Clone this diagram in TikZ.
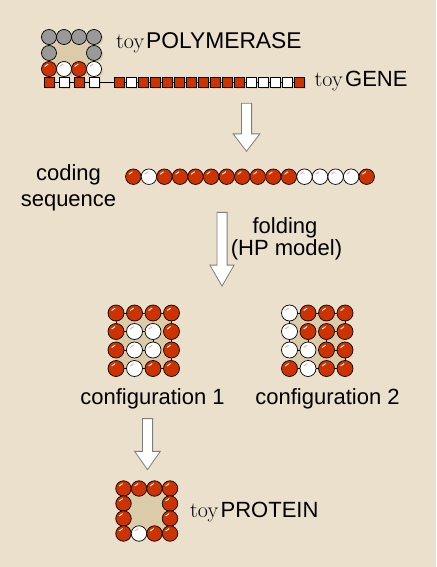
\documentclass[tikz,border=0pt]{standalone}
\usepackage{fontspec}
\setsansfont{Liberation Sans}
\usetikzlibrary{shapes.arrows,backgrounds,shadows}
\definecolor{paper}{RGB}{234,224,204}
\definecolor{core}{RGB}{220,203,168}
\definecolor{hbead}{RGB}{204,51,0}
\definecolor{gbead}{RGB}{153,153,153}
\definecolor{glow}{RGB}{222,206,172}
\definecolor{shine}{RGB}{232,170,170}
\definecolor{arrowline}{RGB}{125,125,125}
\newcommand{\toyword}{{\rmfamily\fontsize{22}{26}\selectfont toy}}

\begin{document}
\begin{tikzpicture}[x=1pt,y=-1pt]
    \tikzstyle{every node}+=[inner sep=0pt]
    \tikzstyle{bead}=[circle, draw=black, line width=0.7pt, minimum size=15.5pt]
    \tikzstyle{hp}=[bead, fill=hbead, path picture={\draw[white, line width=0.9pt] (path picture bounding box.center) ++(100:5pt) arc (100:150:5pt);}]
    \tikzstyle{pp}=[bead, fill=white, path picture={\draw[shine, line width=0.9pt] (path picture bounding box.center) ++(100:5pt) arc (100:150:5pt);}]
    \tikzstyle{gp}=[bead, fill=gbead]
    \tikzstyle{glowing}=[drop shadow={fill=glow, opacity=1, shadow xshift=1.8pt, shadow yshift=-1.8pt}]
    \tikzstyle{hsq}=[rectangle, draw=black, line width=0.6pt, fill=hbead, minimum size=10pt, glowing]
    \tikzstyle{psq}=[rectangle, draw=black, line width=0.6pt, fill=white, minimum size=10pt, glowing]
    \tikzstyle{chain}=[black, line width=0.9pt]
    \tikzstyle{lab}=[font=\sffamily\fontsize{22}{26}\selectfont]
    \tikzstyle{biglab}=[font=\sffamily\fontsize{22.8}{27}\selectfont]
    \tikzstyle{fold}=[single arrow, draw=arrowline, fill=white, line width=0.8pt, rotate=-90, inner ysep=4.7pt]
    \useasboundingbox (0,0) rectangle (436,567);

    % polymerase
    \node[gp, glowing, minimum size=15pt] (pg1) at (49,37) {};
    \node[gp, glowing, minimum size=15pt] (pg2) at (64,37) {};
    \node[gp, glowing, minimum size=15pt] (pg3) at (79,37) {};
    \node[gp, glowing, minimum size=15pt] (pg4) at (94,37) {};
    \node[gp, glowing, minimum size=15pt] (pg5) at (49,53) {};
    \node[gp, glowing, minimum size=15pt] (pg6) at (94,53) {};
    \node[hp, glowing, minimum size=15pt] (pc1) at (49,69) {};
    \node[pp, glowing, minimum size=15pt] (pc2) at (64,69) {};
    \node[hp, glowing, minimum size=15pt] (pc3) at (79,69) {};
    \node[pp, glowing, minimum size=15pt] (pc4) at (94,69) {};
    \node[hsq] (ps1) at (49,82.3) {};
    \node[psq] (ps2) at (64,82.3) {};
    \node[hsq] (ps3) at (79,82.3) {};
    \node[psq] (ps4) at (94,82.3) {};
    \node[biglab, anchor=base west] (polylabel) at (116,49) {\toyword\kern2pt POLYMERASE};

    % gene
    \node[hsq] (g1) at (119.3,82.3) {};
    \node[psq] (g2) at (131.3,82.3) {};
    \node[hsq] (g3) at (143.3,82.3) {};
    \node[hsq] (g4) at (155.3,82.3) {};
    \node[hsq] (g5) at (167.3,82.3) {};
    \node[hsq] (g6) at (179.3,82.3) {};
    \node[hsq] (g7) at (191.3,82.3) {};
    \node[hsq] (g8) at (203.3,82.3) {};
    \node[hsq] (g9) at (215.3,82.3) {};
    \node[hsq] (g10) at (227.3,82.3) {};
    \node[hsq] (g11) at (239.3,82.3) {};
    \node[psq] (g12) at (251.3,82.3) {};
    \node[psq] (g13) at (263.3,82.3) {};
    \node[psq] (g14) at (275.3,82.3) {};
    \node[psq] (g15) at (287.3,82.3) {};
    \node[hsq] (g16) at (299.3,82.3) {};
    \draw[chain] (ps1) -- (ps2) -- (ps3) -- (ps4) -- (g1) -- (g2) -- (g3) -- (g4) -- (g5) -- (g6) -- (g7) -- (g8)
        -- (g9) -- (g10) -- (g11) -- (g12) -- (g13) -- (g14) -- (g15) -- (g16);
    \node[lab, anchor=base west] (genelabel) at (314.5,86.7) {\toyword\kern2.5pt GENE};

    \node[fold, minimum height=48pt, single arrow head extend=8.3pt, single arrow tip angle=75] (arrow1) at (246.5,124) {};

    % coding sequence
    \node[hp] (c1) at (133.3,176.7) {};
    \node[pp] (c2) at (148.9,176.7) {};
    \node[hp] (c3) at (164.4,176.7) {};
    \node[hp] (c4) at (180.0,176.7) {};
    \node[hp] (c5) at (195.5,176.7) {};
    \node[hp] (c6) at (211.1,176.7) {};
    \node[hp] (c7) at (226.7,176.7) {};
    \node[hp] (c8) at (242.2,176.7) {};
    \node[hp] (c9) at (257.8,176.7) {};
    \node[hp] (c10) at (273.3,176.7) {};
    \node[hp] (c11) at (288.9,176.7) {};
    \node[pp] (c12) at (304.5,176.7) {};
    \node[pp] (c13) at (320.0,176.7) {};
    \node[pp] (c14) at (335.6,176.7) {};
    \node[pp] (c15) at (351.1,176.7) {};
    \node[hp] (c16) at (366.7,176.7) {};
    \node[lab, anchor=base] (codinglabel) at (68.5,180) {coding};
    \node[lab, anchor=base] (seqlabel) at (68.5,206) {sequence};

    \node[fold, minimum height=73.7pt, single arrow head extend=7pt, single arrow tip angle=60] (arrow2) at (222,244.8) {};
    \node[lab, anchor=base] (foldlabel) at (285,233) {folding};
    \node[lab, anchor=base] (hplabel) at (286.5,255) {(HP model)};

    % configuration 1
    \node[hp, minimum size=16pt] (a11) at (116,313) {};
    \node[hp, minimum size=16pt] (a12) at (134.5,313) {};
    \node[hp, minimum size=16pt] (a13) at (153,313) {};
    \node[hp, minimum size=16pt] (a14) at (171.5,313) {};
    \node[hp, minimum size=16pt] (a21) at (116,331.5) {};
    \node[pp, minimum size=16pt] (a22) at (134.5,331.5) {};
    \node[pp, minimum size=16pt] (a23) at (153,331.5) {};
    \node[hp, minimum size=16pt] (a24) at (171.5,331.5) {};
    \node[hp, minimum size=16pt] (a31) at (116,350) {};
    \node[pp, minimum size=16pt] (a32) at (134.5,350) {};
    \node[pp, minimum size=16pt] (a33) at (153,350) {};
    \node[hp, minimum size=16pt] (a34) at (171.5,350) {};
    \node[hp, minimum size=16pt] (a41) at (116,368.5) {};
    \node[pp, minimum size=16pt] (a42) at (134.5,368.5) {};
    \node[hp, minimum size=16pt] (a43) at (153,368.5) {};
    \node[hp, minimum size=16pt] (a44) at (171.5,368.5) {};
    \draw[chain] (a41) -- (a42) -- (a43) -- (a44) -- (a34) -- (a24) -- (a14) -- (a13) -- (a12) -- (a11)
        -- (a21) -- (a22) -- (a23) -- (a33) -- (a32) -- (a31);
    \node[lab, anchor=base] (conf1label) at (152.5,404) {configuration 1};

    % configuration 2
    \node[pp, minimum size=16pt] (b11) at (289.5,313) {};
    \node[hp, minimum size=16pt] (b12) at (308,313) {};
    \node[hp, minimum size=16pt] (b13) at (326.5,313) {};
    \node[hp, minimum size=16pt] (b14) at (345,313) {};
    \node[pp, minimum size=16pt] (b21) at (289.5,331.5) {};
    \node[hp, minimum size=16pt] (b22) at (308,331.5) {};
    \node[hp, minimum size=16pt] (b23) at (326.5,331.5) {};
    \node[hp, minimum size=16pt] (b24) at (345,331.5) {};
    \node[pp, minimum size=16pt] (b31) at (289.5,350) {};
    \node[pp, minimum size=16pt] (b32) at (308,350) {};
    \node[hp, minimum size=16pt] (b33) at (326.5,350) {};
    \node[hp, minimum size=16pt] (b34) at (345,350) {};
    \node[hp, minimum size=16pt] (b41) at (289.5,368.5) {};
    \node[pp, minimum size=16pt] (b42) at (308,368.5) {};
    \node[hp, minimum size=16pt] (b43) at (326.5,368.5) {};
    \node[hp, minimum size=16pt] (b44) at (345,368.5) {};
    \draw[chain] (b41) -- (b42) -- (b43) -- (b44) -- (b34) -- (b33) -- (b23) -- (b24) -- (b14) -- (b13)
        -- (b12) -- (b11) -- (b21) -- (b31) -- (b32) -- (b22);
    \node[lab, anchor=base] (conf2label) at (327.5,404) {configuration 2};

    \node[fold, minimum height=51pt, single arrow head extend=7.7pt, single arrow tip angle=70] (arrow3) at (147.5,440.5) {};

    % protein
    \node[hp] (t11) at (123.5,488.5) {};
    \node[hp] (t12) at (139,488.5) {};
    \node[hp] (t13) at (154.5,488.5) {};
    \node[hp] (t14) at (170,488.5) {};
    \node[hp] (t21) at (123.5,503.5) {};
    \node[hp] (t24) at (170,503.5) {};
    \node[hp] (t31) at (123.5,518.5) {};
    \node[hp] (t34) at (170,518.5) {};
    \node[hp] (t41) at (123.5,533.5) {};
    \node[pp] (t42) at (139,533.5) {};
    \node[hp] (t43) at (154.5,533.5) {};
    \node[hp] (t44) at (170,533.5) {};
    \node[lab, anchor=base west] (protlabel) at (190,517) {\toyword\kern2.5pt PROTEIN};

    \begin{scope}[on background layer]
        \fill[paper] (0,0) rectangle (436,567);
        \fill[core] (pg1.center) rectangle (pc4.center);
        \fill[core] (a11.center) rectangle (a44.center);
        \fill[core] (b11.center) rectangle (b44.center);
        \fill[core] (t11.center) rectangle (t44.center);
    \end{scope}
\end{tikzpicture}
\end{document}
